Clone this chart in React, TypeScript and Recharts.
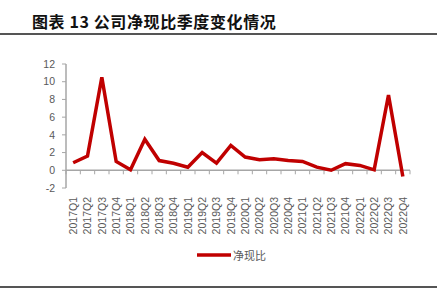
import React from "react";
import { LineChart, Line, XAxis, YAxis, ReferenceLine, Legend } from "recharts";

const categories = [
  "2017Q1", "2017Q2", "2017Q3", "2017Q4",
  "2018Q1", "2018Q2", "2018Q3", "2018Q4",
  "2019Q1", "2019Q2", "2019Q3", "2019Q4",
  "2020Q1", "2020Q2", "2020Q3", "2020Q4",
  "2021Q1", "2021Q2", "2021Q3", "2021Q4",
  "2022Q1", "2022Q2", "2022Q3", "2022Q4",
];
const netCashRatio = [
  0.85, 1.6, 10.5, 1.0,
  0.05, 3.5, 1.1, 0.8,
  0.35, 2.0, 0.8, 2.8,
  1.5, 1.2, 1.3, 1.1,
  1.0, 0.35, 0.0, 0.75,
  0.55, 0.05, 8.5, -0.7,
];
const yTicks = [-2, 0, 2, 4, 6, 8, 10, 12];
const seriesName = "净现比";
const title = "图表 13 公司净现比季度变化情况";

const data = categories.map((q, i) => ({ q, v: netCashRatio[i] }));

const AXIS_GRAY = "#a6a6a6";
const TEXT_GRAY = "#595959";
const RED = "#C00000";

const XTick = (props: any) => {
  const { x, y, payload } = props;
  return (
    <text
      transform={`translate(${x},${y}) rotate(-90)`}
      textAnchor="end"
      dy="0.35em"
      fontSize={10.5}
      fill={TEXT_GRAY}
      fontFamily="'Liberation Sans', Arial, sans-serif"
    >
      {payload.value}
    </text>
  );
};

const ZeroLine = (props: any) => {
  const { x1, y1, x2, y2 } = props;
  const n = categories.length;
  const band = (x2 - x1) / n;
  const ticks = [];
  for (let i = 0; i <= n; i++) {
    const tx = x1 + i * band;
    ticks.push(<line key={i} x1={tx} x2={tx} y1={y1} y2={y1 + 4} stroke={AXIS_GRAY} strokeWidth={1} />);
  }
  return (
    <g>
      <line x1={x1} y1={y1} x2={x2} y2={y2} stroke={AXIS_GRAY} strokeWidth={1.5} />
      {ticks}
    </g>
  );
};

const LegendContent = (props: any) => {
  const { payload } = props;
  return (
    <div style={{ display: "flex", alignItems: "center" }}>
      {(payload || []).map((p: any) => (
        <div key={p.value} style={{ display: "flex", alignItems: "center" }}>
          <svg width={34} height={8}>
            <line x1={0} x2={34} y1={4} y2={4} stroke={p.color} strokeWidth={3.5} />
          </svg>
          <span
            style={{
              marginLeft: 2,
              fontSize: 11,
              color: TEXT_GRAY,
              fontFamily: "'Noto Sans CJK SC', sans-serif",
              lineHeight: "12px",
            }}
          >
            {p.value}
          </span>
        </div>
      ))}
    </div>
  );
};

export default function App() {
  return (
    <div style={{ position: "absolute", left: 0, top: 0, width: 441, height: 295, background: "#fff", overflow: "hidden" }}>
      <div
        style={{
          position: "absolute",
          left: 32,
          top: 13,
          fontSize: 16,
          lineHeight: "17px",
          letterSpacing: 0.6,
          fontWeight: 700,
          color: "#111",
          fontFamily: "'Noto Sans CJK SC', sans-serif",
          whiteSpace: "nowrap",
        }}
      >
        {title}
      </div>
      <div style={{ position: "absolute", left: 0, top: 33, width: 437, height: 2, background: "#555" }} />
      <div style={{ position: "absolute", left: 0, top: 286, width: 437, height: 2, background: "#555" }} />
      <div style={{ position: "absolute", left: 0, top: 0 }}>
        <LineChart width={441} height={295} data={data} margin={{ top: 64, right: 31, bottom: 47, left: 0 }}>
          <XAxis
            dataKey="q"
            scale="band"
            axisLine={false}
            tickLine={false}
            tickSize={0}
            tickMargin={9}
            interval={0}
            height={60}
            tick={<XTick />}
          />
          <YAxis
            domain={[-2, 12]}
            ticks={yTicks}
            width={66}
            axisLine={{ stroke: AXIS_GRAY, strokeWidth: 1.5 }}
            tickLine={{ stroke: AXIS_GRAY }}
            tickSize={4}
            tickMargin={7}
            tick={{ fontSize: 10.5, fill: TEXT_GRAY, fontFamily: "'Liberation Sans', Arial, sans-serif" }}
            interval={0}
          />
          <ReferenceLine y={0} shape={<ZeroLine />} />
          <Line
            type="linear"
            dataKey="v"
            name={seriesName}
            stroke={RED}
            strokeWidth={3.5}
            dot={false}
            isAnimationActive={false}
          />
          <Legend
            verticalAlign="middle"
            layout="horizontal"
            align="center"
            content={<LegendContent />}
            wrapperStyle={{ top: 249, left: 197, width: "auto", height: 12 }}
          />
        </LineChart>
      </div>
    </div>
  );
}
